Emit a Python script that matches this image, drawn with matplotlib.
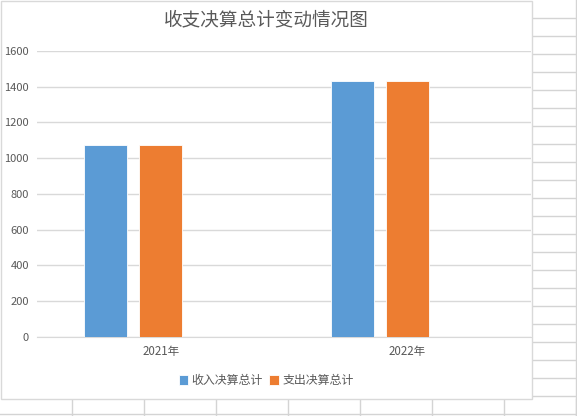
import matplotlib
matplotlib.use('Agg')
import matplotlib.pyplot as plt
import numpy as np
from matplotlib.lines import Line2D
from matplotlib.patches import Rectangle

plt.rcParams['font.family'] = ['Noto Sans CJK SC', 'DejaVu Sans']

# Data
years = ['2021年', '2022年']
series_names = ['收入决算总计', '支出决算总计']
income = [1075, 1434]
expense = [1075, 1434]
colors = ['#5B9BD5', '#ED7D31']

W, H = 577, 416
fig = plt.figure(figsize=(W / 100, H / 100), dpi=100)
fig.patch.set_facecolor('white')


def fx(px):
    return px / W


def fy(py):
    # pixel measured from top -> figure fraction
    return 1 - py / H


grid_col = '#D4D4D4'

# spreadsheet cells behind the chart
for y in np.arange(18.3, 400, 18):
    fig.add_artist(Line2D([fx(532), fx(577)], [fy(y), fy(y)], color=grid_col, lw=1, zorder=-3))
fig.add_artist(Line2D([0, 1], [fy(413.5), fy(413.5)], color=grid_col, lw=1, zorder=-3))
fig.add_artist(Line2D([fx(576), fx(576)], [0, 1], color=grid_col, lw=1, zorder=-3))
for x in range(72, 577, 72):
    fig.add_artist(Line2D([fx(x), fx(x)], [0, fy(399)], color=grid_col, lw=1, zorder=-3))

# chart area
fig.add_artist(Rectangle((fx(0.5), fy(399)), fx(531.5), fy(0.5) - fy(399),
                         facecolor='white', edgecolor='#D9D9D9', lw=1, zorder=-2))

# plot area
left, right, top, bottom = 37.3, 531, 51, 336.7
ax = fig.add_axes([fx(left), fy(bottom), fx(right - left), fy(top) - fy(bottom)])
ax.set_facecolor('none')
ax.set_zorder(1)

x = np.arange(len(years))
step = 0.2227
width = 0.174
# third slot in each group is empty in the source chart
ax.bar(x - step, income, width, color=colors[0], edgecolor='white', lw=0.6,
       label=series_names[0], zorder=3)
ax.bar(x, expense, width, color=colors[1], edgecolor='white', lw=0.6,
       label=series_names[1], zorder=3)

ax.set_xlim(-0.5, 1.5)
ax.set_ylim(0, 1600)
ax.set_yticks(range(0, 1601, 200))
ax.set_xticks(x)
ax.set_xticklabels(years)
ax.yaxis.grid(True, color='#D9D9D9', lw=1, zorder=0)
ax.set_axisbelow(True)
for s in ['top', 'right', 'left']:
    ax.spines[s].set_visible(False)
ax.spines['bottom'].set_color('#D9D9D9')
ax.tick_params(axis='both', length=0, labelsize=8, labelcolor='#595959')
ax.tick_params(axis='y', pad=6)
ax.tick_params(axis='x', pad=6, labelsize=8.3)

fig.text(fx(266), fy(20.7), '收支决算总计变动情况图', ha='center', va='center',
         fontsize=13.4, color='#595959')

fig.legend(loc='center', bbox_to_anchor=(fx(266), fy(380.7)), ncol=2, frameon=False,
           fontsize=8.6, labelcolor='#595959', handlelength=0.8, handleheight=0.8,
           handletextpad=0.3, columnspacing=0.5)

fig.savefig('out.png', dpi=100, facecolor='white')
